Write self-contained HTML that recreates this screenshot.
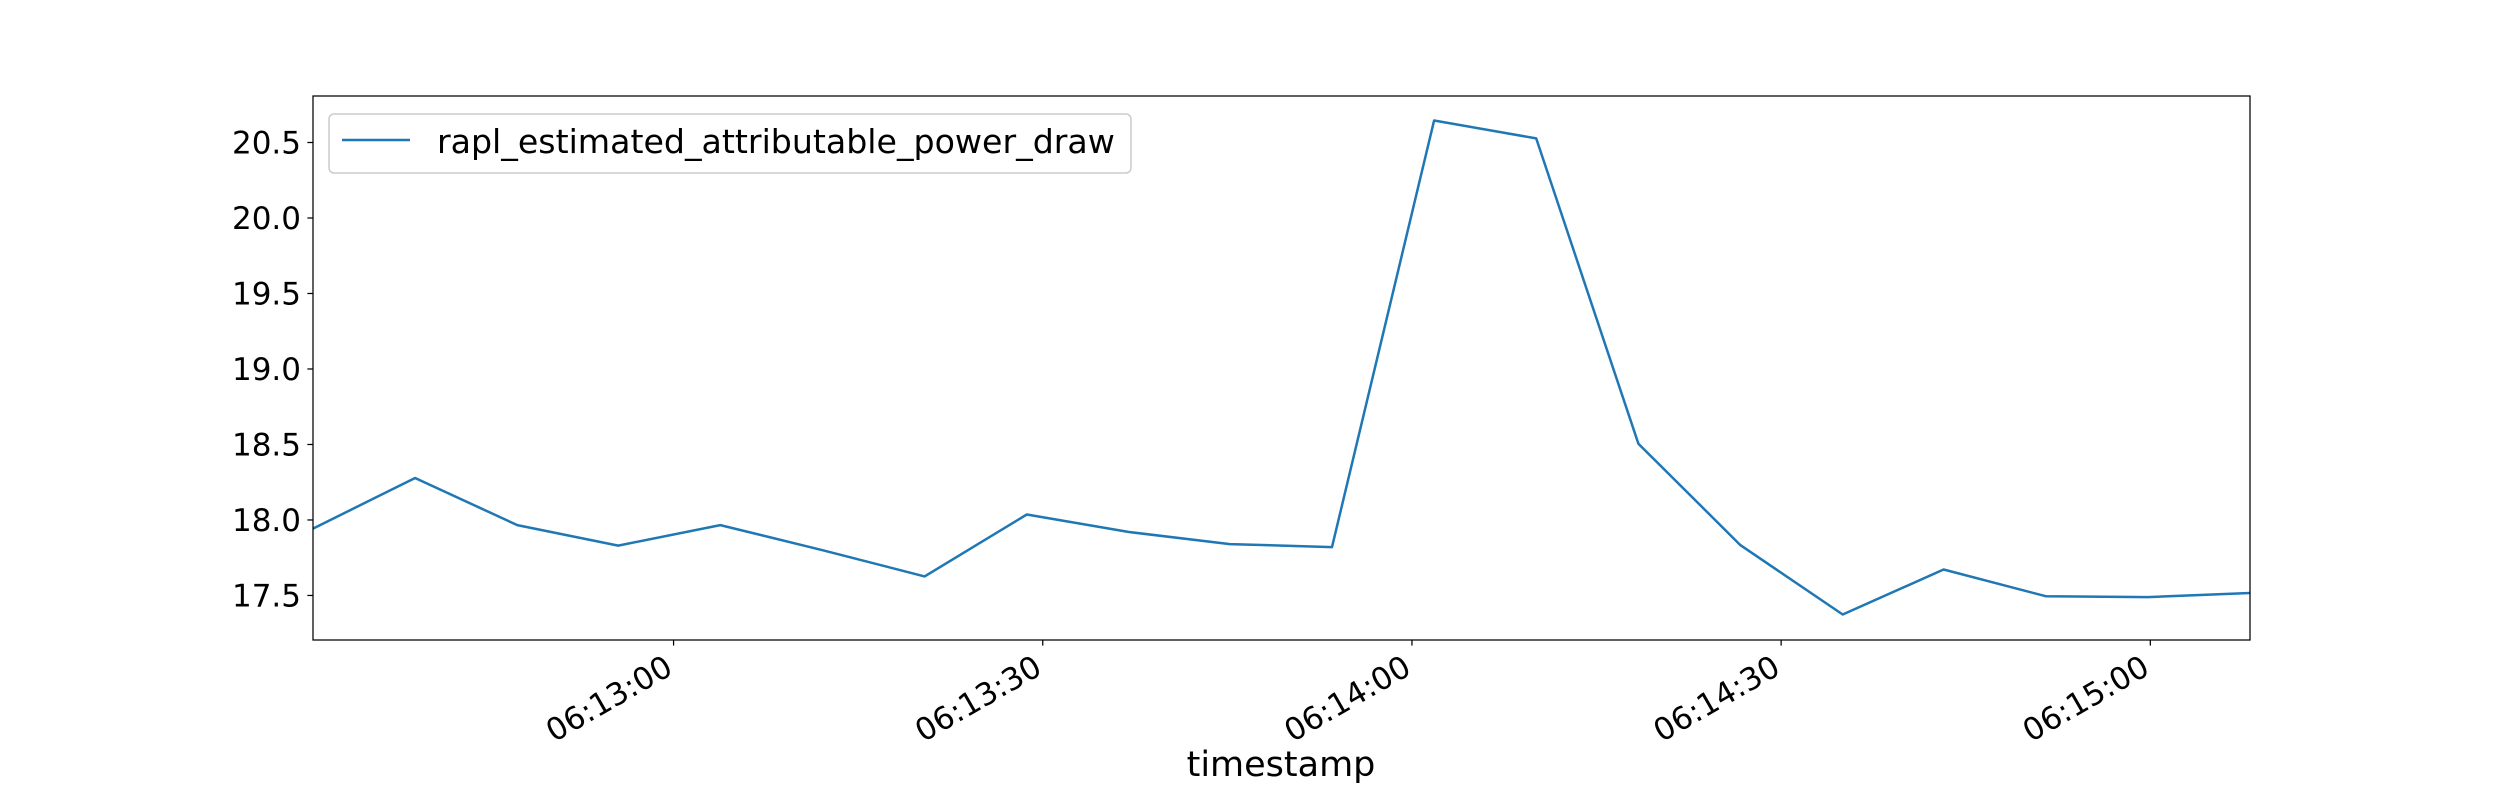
<!DOCTYPE html>
<html><head><meta charset="utf-8"><style>
html,body{margin:0;padding:0;background:#fff;}
svg{display:block;font-family:"DejaVu Sans","Liberation Sans",sans-serif;}
</style></head><body>
<svg id="chart" width="2500" height="800" viewBox="0 0 2500 800" xmlns="http://www.w3.org/2000/svg">
<rect width="2500" height="800" fill="#fff"/>
<g id="plot"></g>
</svg>
<script>
// seconds relative to 06:13:00
const timestamps = [-29.3,-21.0,-12.7,-4.5,3.8,12.1,20.4,28.7,37.0,45.2,53.5,61.8,70.1,78.4,86.7,95.0,103.2,111.5,119.8,128.1];
const powerDraw = [17.943,18.278,17.966,17.83,17.966,17.80,17.626,18.036,17.92,17.84,17.82,20.646,20.527,18.505,17.833,17.374,17.672,17.495,17.489,17.516];
const yTicks = [17.5,18.0,18.5,19.0,19.5,20.0,20.5];
const xTickSecs = [0,30,60,90,120];
const xTickLabels = ["06:13:00","06:13:30","06:14:00","06:14:30","06:15:00"];
const seriesName = "rapl_estimated_attributable_power_draw";

const L=313,R=2250,T=96,B=640;
const xMin=-29.3,xMax=128.1,yMin=17.205,yMax=20.808;
const xs=s=>L+(s-xMin)/(xMax-xMin)*(R-L);
const ys=v=>B-(v-yMin)/(yMax-yMin)*(B-T);
const NS="http://www.w3.org/2000/svg";
const g=document.getElementById('plot');
function mk(tag,attrs,parent){const e=document.createElementNS(NS,tag);for(const k in attrs)e.setAttribute(k,attrs[k]);(parent||g).appendChild(e);return e;}

const pts=timestamps.map((t,i)=>xs(t).toFixed(1)+','+ys(powerDraw[i]).toFixed(1)).join(' ');
const line=mk('polyline',{points:pts,fill:'none',stroke:'#1f77b4','stroke-width':2.5,'stroke-linejoin':'round'});



const frame=mk('rect',{x:L,y:T,width:R-L,height:B-T,fill:'none',stroke:'#000','stroke-width':1.25});



yTicks.forEach(v=>{
  const y=ys(v);
  const tk=mk('line',{x1:L-5.6,x2:L,y1:y,y2:y,stroke:'#000','stroke-width':1.25});
  
  
  const tx=mk('text',{x:L-12,y:y+11,'text-anchor':'end','font-size':31,fill:'#000'});
  tx.textContent=v.toFixed(1);
  
  
});

xTickSecs.forEach((s,i)=>{
  const x=xs(s);
  const tk=mk('line',{x1:x,x2:x,y1:B,y2:B+5.6,stroke:'#000','stroke-width':1.25});
  
  
  const grp=mk('g',{transform:`translate(${x-10},${654}) rotate(-30)`});
  const tx=mk('text',{x:0,y:22,'text-anchor':'end','font-size':31,fill:'#000'},grp);
  tx.textContent=xTickLabels[i];
  
  
});

const xt=mk('text',{x:1281,y:776,'text-anchor':'middle','font-size':35,fill:'#000'});
xt.textContent='timestamp';



const lg=mk('g',{});


mk('rect',{x:329,y:114,width:802,height:59,rx:5,fill:'#fff','fill-opacity':0.8,stroke:'#ccc','stroke-width':1.5},lg);
const ll=mk('line',{x1:342,x2:410,y1:140,y2:140,stroke:'#1f77b4','stroke-width':2.5},lg);


const lt=mk('text',{x:437,y:153,'font-size':33.2,fill:'#000'},lg);
lt.textContent=seriesName;


</script>
</body></html>
